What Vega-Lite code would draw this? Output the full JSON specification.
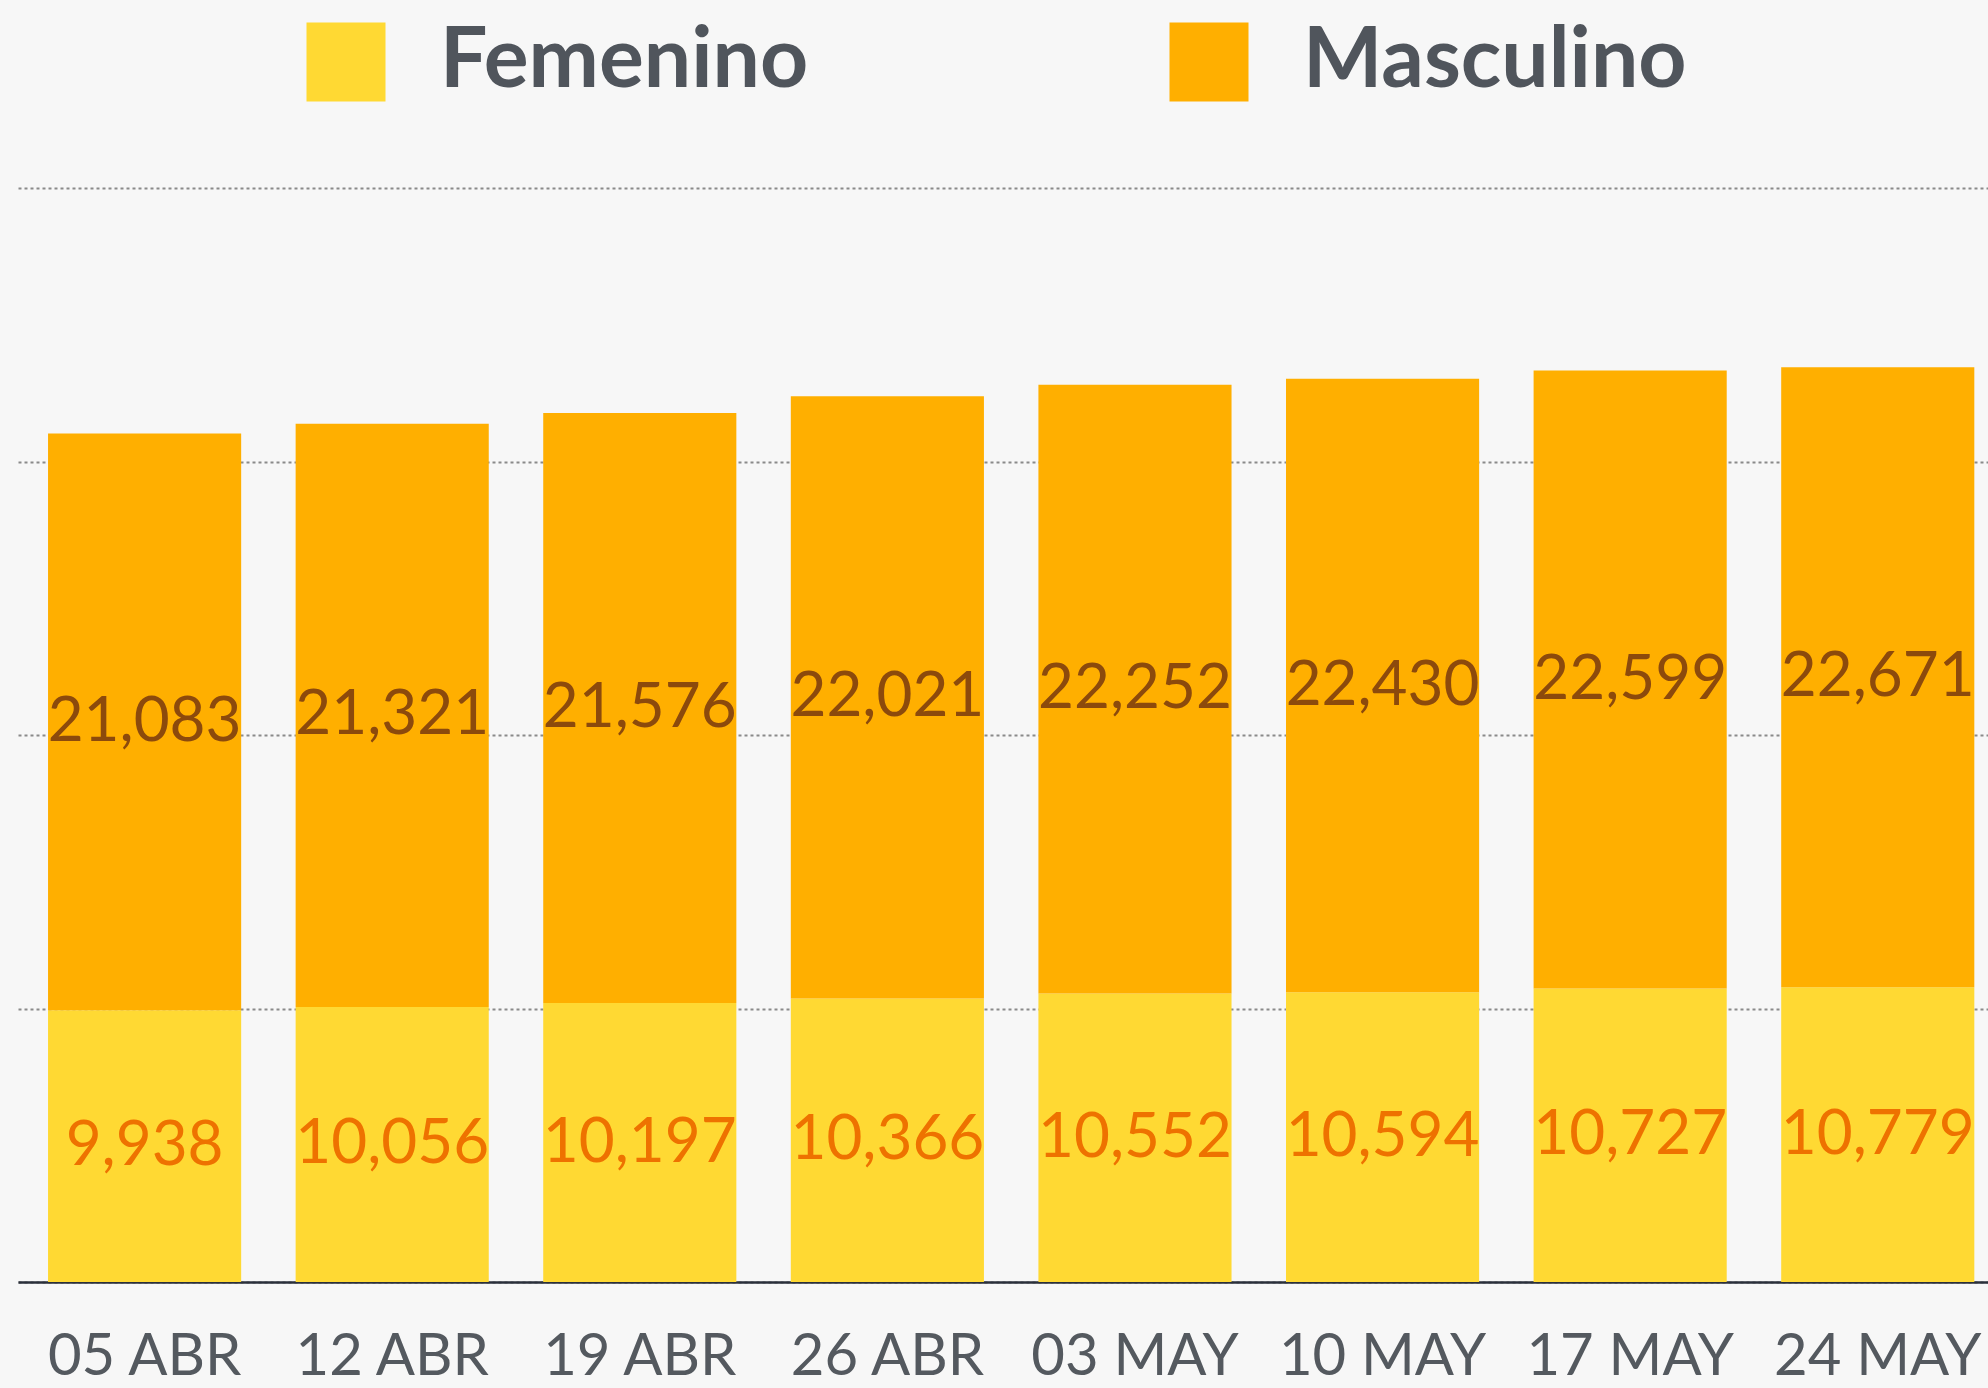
{
  "$schema": "https://vega.github.io/schema/vega-lite/v6.json",
  "width": 1970,
  "height": 1094,
  "autosize": {"type": "none"},
  "padding": {"left": 18, "top": 188, "right": 0, "bottom": 106},
  "background": "#f7f7f7",
  "data": {
    "values": [
      {"date": "05 ABR", "sex": "Femenino", "value": 9938},
      {"date": "05 ABR", "sex": "Masculino", "value": 21083},
      {"date": "12 ABR", "sex": "Femenino", "value": 10056},
      {"date": "12 ABR", "sex": "Masculino", "value": 21321},
      {"date": "19 ABR", "sex": "Femenino", "value": 10197},
      {"date": "19 ABR", "sex": "Masculino", "value": 21576},
      {"date": "26 ABR", "sex": "Femenino", "value": 10366},
      {"date": "26 ABR", "sex": "Masculino", "value": 22021},
      {"date": "03 MAY", "sex": "Femenino", "value": 10552},
      {"date": "03 MAY", "sex": "Masculino", "value": 22252},
      {"date": "10 MAY", "sex": "Femenino", "value": 10594},
      {"date": "10 MAY", "sex": "Masculino", "value": 22430},
      {"date": "17 MAY", "sex": "Femenino", "value": 10727},
      {"date": "17 MAY", "sex": "Masculino", "value": 22599},
      {"date": "24 MAY", "sex": "Femenino", "value": 10779},
      {"date": "24 MAY", "sex": "Masculino", "value": 22671}
    ]
  },
  "encoding": {
    "x": {
      "field": "date",
      "type": "nominal",
      "sort": null,
      "title": null,
      "scale": {"paddingInner": 0.22, "paddingOuter": 0.0883, "align": 0.687}
    }
  },
  "layer": [
    {
      "mark": {"type": "bar"},
      "encoding": {
        "y": {
          "field": "value",
          "type": "quantitative",
          "aggregate": "sum",
          "stack": "zero",
          "title": null,
          "scale": {"domain": [0, 40000], "nice": false}
        },
        "color": {
          "field": "sex",
          "type": "nominal",
          "scale": {"domain": ["Femenino", "Masculino"], "range": ["#ffd933", "#ffaf00"]},
          "legend": {
            "title": null,
            "orient": "none",
            "direction": "horizontal",
            "legendX": 286,
            "legendY": -168,
            "padding": 0,
            "symbolType": "square",
            "symbolSize": 6241,
            "symbolStrokeWidth": 0,
            "symbolOpacity": 1,
            "labelFont": "Lato",
            "labelFontSize": 84,
            "labelFontWeight": "bold",
            "labelColor": "#50555c",
            "labelOffset": 52,
            "labelLimit": 1000,
            "columnPadding": 358
          }
        },
        "order": {"field": "sex", "sort": "ascending"}
      }
    },
    {
      "transform": [
        {"stack": "value", "groupby": ["date"], "sort": [{"field": "sex", "order": "ascending"}], "as": ["v0", "v1"]},
        {"fold": ["v0", "v1"], "as": ["edge", "pos"]},
        {"aggregate": [{"op": "mean", "field": "pos", "as": "mid"}], "groupby": ["date", "sex", "value"]}
      ],
      "mark": {"type": "text", "font": "Lato", "fontSize": 62, "baseline": "middle", "align": "center"},
      "encoding": {
        "y": {"field": "mid", "type": "quantitative", "title": null, "scale": {"domain": [0, 40000], "nice": false}},
        "text": {"field": "value", "type": "quantitative", "format": ","},
        "color": {
          "field": "sex",
          "type": "nominal",
          "scale": {"domain": ["Femenino", "Masculino"], "range": ["#ee7200", "#8c4a0c"]},
          "legend": null
        }
      }
    }
  ],
  "resolve": {"scale": {"color": "independent"}},
  "config": {
    "view": {"stroke": null},
    "axisX": {
      "domainColor": "#2b303b",
      "domainWidth": 2.5,
      "ticks": false,
      "grid": false,
      "labelFont": "Lato",
      "labelFontSize": 58,
      "labelColor": "#54595f",
      "labelPadding": 46,
      "labelAngle": 0,
      "labelLimit": 0
    },
    "axisY": {
      "domain": false,
      "ticks": false,
      "labels": false,
      "grid": true,
      "gridDash": [3, 3],
      "gridColor": "#8a8a8a",
      "gridWidth": 2,
      "tickCount": 4
    }
  }
}
